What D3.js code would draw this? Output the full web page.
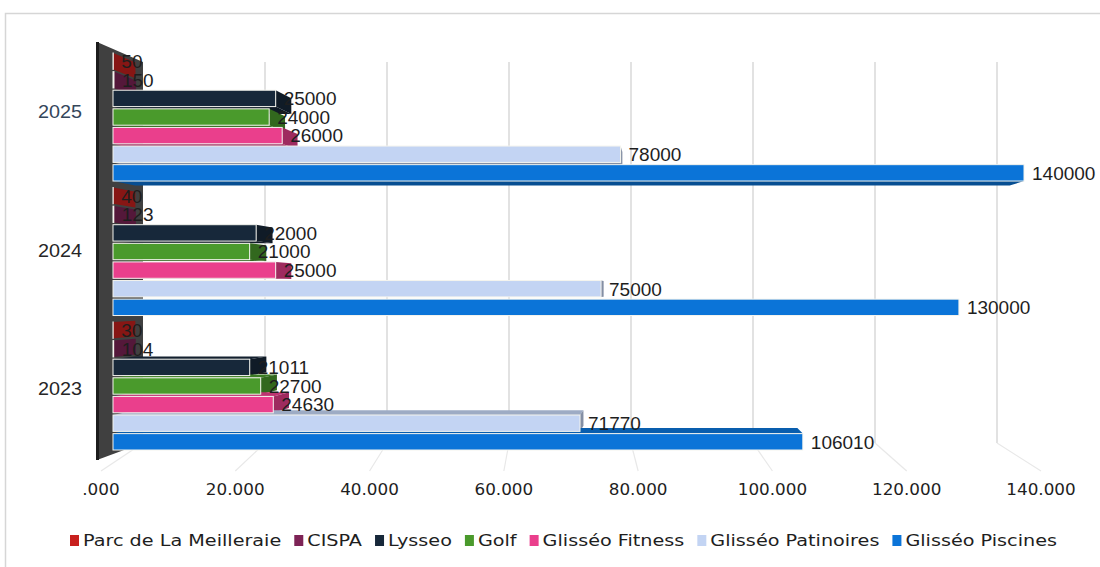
<!DOCTYPE html>
<html><head><meta charset="utf-8">
<script src="https://cdn.jsdelivr.net/npm/d3@7/dist/d3.min.js"></script>
<style>html,body{margin:0;padding:0;background:#fff;}svg{display:block;}</style>
</head><body>
<svg id="chart" width="1100" height="567"></svg>
<script>
// ---- data ----
const years = ["2025", "2024", "2023"];
const series = ["Parc de La Meilleraie", "CISPA", "Lysseo", "Golf", "Glisséo Fitness", "Glisséo Patinoires", "Glisséo Piscines"];
const parc = [50, 40, 30];
const cispa = [150, 123, 104];
const lysseo = [25000, 22000, 21011];
const golf = [24000, 21000, 22700];
const fitness = [26000, 25000, 24630];
const patinoires = [78000, 75000, 71770];
const piscines = [140000, 130000, 106010];
const seriesColors = ["#c8201e", "#7d2356", "#17283a", "#4a9a2c", "#ea3f8c", "#c3d4f3", "#0b74d8"];
const tickValues = [0, 20000, 40000, 60000, 80000, 100000, 120000, 140000];
const tickLabels = [".000", "20.000", "40.000", "60.000", "80.000", "100.000", "120.000", "140.000"];

const values = [parc, cispa, lysseo, golf, fitness, patinoires, piscines];

// ---- layout ----
const svg = d3.select("#chart");
const VP = [666, 293];          // vanishing point of the 3D view
const S_BAR = 0.96;             // bar depth
const proj = (p, s) => [VP[0] + s * (p[0] - VP[0]), VP[1] + s * (p[1] - VP[1])];

const x = d3.scaleLinear().domain([0, 140000]).range([113, 1024]);     // front plane
const xBack = d3.scaleLinear().domain([0, 140000]).range([143, 997]);  // back wall
const xTick = d3.scaleLinear().domain([0, 140000]).range([101, 1041]); // floor front
const y0 = d3.scaleBand().domain(years).range([53, 450]).paddingInner(0.048).paddingOuter(0);
const y1 = d3.scaleBand().domain(series).range([0, y0.bandwidth()]).paddingInner(0.12);

// frame
svg.append("rect").attr("x", 5.5).attr("y", 13.5).attr("width", 1110).attr("height", 560)
  .attr("fill", "#fff").attr("stroke", "#d6d6d6").attr("stroke-width", 1.5);

// gridlines on back wall + floor lines
const grid = svg.append("g");
tickValues.forEach(v => {
  if (v > 0) {
    grid.append("line").attr("x1", xBack(v)).attr("x2", xBack(v)).attr("y1", 62).attr("y2", 443)
      .attr("stroke", "#d9d9d9").attr("stroke-width", 1.5);
  }
  grid.append("line").attr("x1", xBack(v)).attr("y1", 443).attr("x2", xTick(v)).attr("y2", 471)
    .attr("stroke", "#e8e8e8").attr("stroke-width", 1.2);
});

// left side wall
svg.append("polygon")
  .attr("points", [[97, 42], [143, 62], [143, 443], [97, 460]].map(p => p.join(",")).join(" "))
  .attr("fill", "#404040");
svg.append("line").attr("x1", 97.5).attr("y1", 42).attr("x2", 97.5).attr("y2", 460)
  .attr("stroke", "#1c1c1c").attr("stroke-width", 3);

// bars
const bars = [];
years.forEach((yr, yi) => {
  series.forEach((s, si) => {
    const v = values[si][yi];
    const top = y0(yr) + y1(s);
    bars.push({ yr, s, si, v, x0: x(0), x1: x(v), top, bot: top + y1.bandwidth(), color: seriesColors[si] });
  });
});

const poly = pts => pts.map(p => p.join(",")).join(" ");
const sideG = svg.append("g");
const frontG = svg.append("g");
bars.forEach(b => {
  const dark = d3.color(b.color).darker(1.1).formatHex();
  const A = [b.x0, b.top], B = [b.x1, b.top], C = [b.x1, b.bot], D = [b.x0, b.bot];
  const Ab = proj(A, S_BAR), Bb = proj(B, S_BAR), Cb = proj(C, S_BAR), Db = proj(D, S_BAR);
  if (b.top > VP[1]) sideG.append("polygon").attr("points", poly([A, B, Bb, Ab])).attr("fill", d3.color(b.color).darker(0.6).formatHex());
  if (b.bot < VP[1]) sideG.append("polygon").attr("points", poly([D, C, Cb, Db])).attr("fill", dark);
  if (b.x1 < VP[0]) sideG.append("polygon").attr("points", poly([B, Bb, Cb, C])).attr("fill", dark);
  frontG.append("rect").attr("x", b.x0).attr("y", b.top).attr("width", Math.max(0, b.x1 - b.x0)).attr("height", b.bot - b.top)
    .attr("fill", b.color).attr("stroke", "#f4f4ee").attr("stroke-width", 1);
});

// data labels
const labG = svg.append("g").attr("font-family", "'Liberation Sans', Arial, sans-serif").attr("font-size", 19).attr("fill", "#1e1e1e");
bars.forEach(b => {
  labG.append("text").attr("x", b.x1 + 8).attr("y", (b.top + b.bot) / 2).attr("dy", "0.36em").text(b.v);
});

// category labels
const catG = svg.append("g").attr("font-family", "'Liberation Sans', Arial, sans-serif").attr("font-size", 18)
  .attr("fill", "#262626").attr("text-anchor", "end");
years.forEach(yr => {
  const c = y0(yr) + y0.bandwidth() / 2;
  catG.append("text").attr("x", 82).attr("y", VP[1] + 1.03 * (c - VP[1])).attr("dy", "0.36em").text(yr)
    .attr("textLength", 44).attr("lengthAdjust", "spacingAndGlyphs")
    .attr("fill", yr === "2025" ? "#34465a" : "#262626");
});

// x tick labels
const WIDE = "'DejaVu Sans', Verdana, sans-serif";
const tickG = svg.append("g").attr("font-family", WIDE).attr("font-size", 15).attr("fill", "#1e1e1e").attr("text-anchor", "middle");
tickValues.forEach((v, i) => {
  const t = tickG.append("text").attr("x", xTick(v)).attr("y", 490).attr("dy", "0.36em").text(tickLabels[i]);
  const w = t.node().getComputedTextLength();
  t.attr("textLength", w * 1.12).attr("lengthAdjust", "spacingAndGlyphs");
});

// legend
const legG = svg.append("g").attr("font-family", WIDE).attr("font-size", 15).attr("fill", "#1e1e1e");
const items = series.map((s, i) => {
  const t = legG.append("text").attr("y", 541).attr("dy", "0.36em").text(s);
  return { t, w: t.node().getComputedTextLength(), i };
});
const markerW = 9, markerGap = 4, itemGap = 13, legStart = 70, legEnd = 1057;
const fixed = items.length * (markerW + markerGap) + (items.length - 1) * itemGap;
const k = (legEnd - legStart - fixed) / d3.sum(items, d => d.w);
let lx = legStart;
items.forEach(it => {
  legG.append("rect").attr("x", lx).attr("y", 535).attr("width", markerW).attr("height", 11).attr("fill", seriesColors[it.i]);
  it.t.attr("x", lx + markerW + markerGap).attr("textLength", it.w * k).attr("lengthAdjust", "spacingAndGlyphs");
  lx += markerW + markerGap + it.w * k + itemGap;
});
</script>
</body></html>
